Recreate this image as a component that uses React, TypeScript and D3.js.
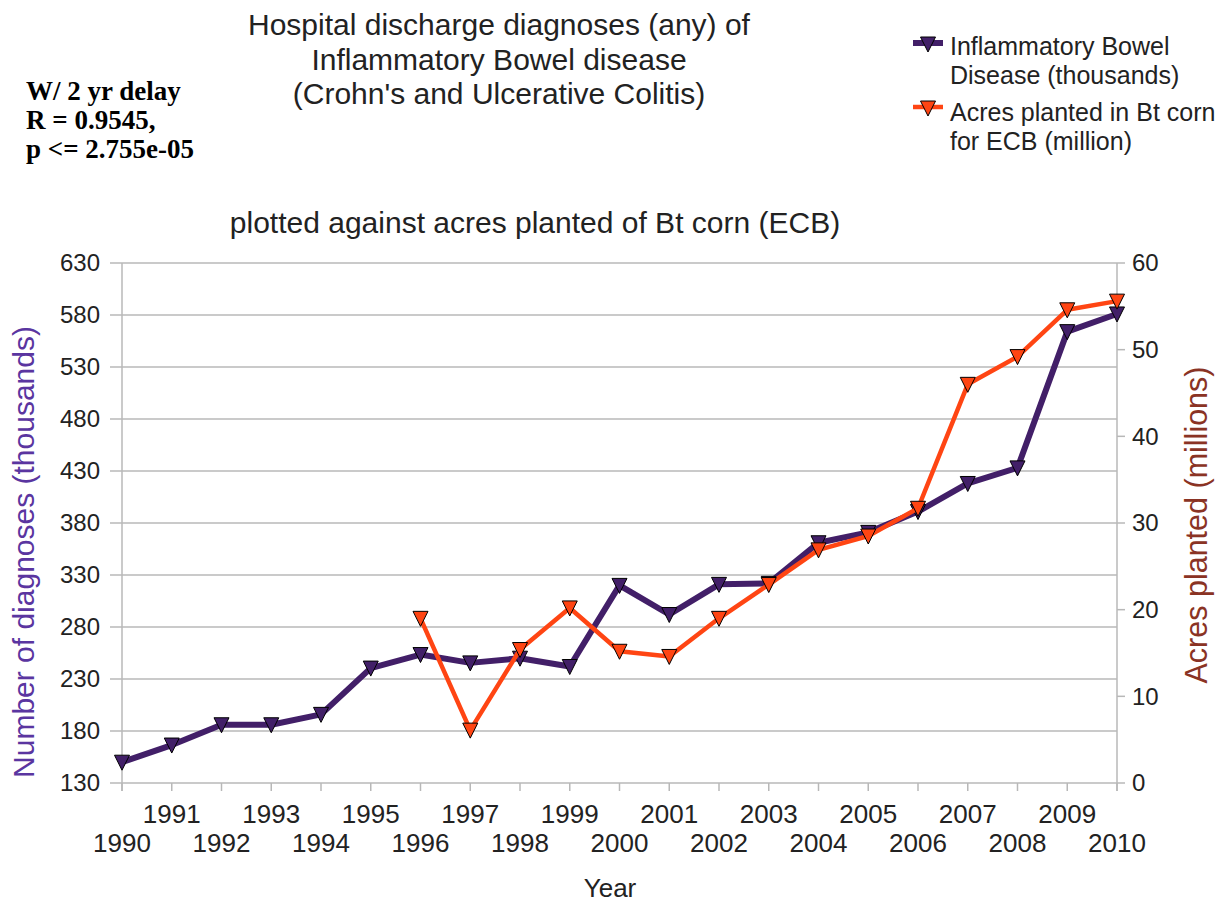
import React from "react";
import * as d3 from "d3";

const years = [1990, 1991, 1992, 1993, 1994, 1995, 1996, 1997, 1998, 1999, 2000, 2001, 2002, 2003, 2004, 2005, 2006, 2007, 2008, 2009, 2010];
const ibdValues = [150, 166.5, 186, 186, 196, 240.5, 253.5, 245.5, 250, 242, 320, 292, 321, 322, 361, 371, 391, 418, 433, 564, 581];
const acresYears = [1996, 1997, 1998, 1999, 2000, 2001, 2002, 2003, 2004, 2005, 2006, 2007, 2008, 2009, 2010];
const acresValues = [19.0, 6.1, 15.4, 20.2, 15.2, 14.6, 19.0, 22.9, 26.9, 28.5, 31.7, 46.0, 49.2, 54.6, 55.6];
const leftTicks = [130, 180, 230, 280, 330, 380, 430, 480, 530, 580, 630];
const rightTicks = [0, 10, 20, 30, 40, 50, 60];
const titleLines = ["Hospital discharge diagnoses (any) of", "Inflammatory Bowel disease", "(Crohn's and Ulcerative Colitis)"];
const statLines = ["W/ 2 yr delay", "R = 0.9545,", "p <= 2.755e-05"];
const subtitle = "plotted against acres planted of Bt corn (ECB)";
const legendIbd = ["Inflammatory Bowel", "Disease (thousands)"];
const legendAcres = ["Acres planted in Bt corn", "for ECB (million)"];

const W = 1215;
const H = 903;
const L = 122, R = 1117, T = 263, B = 783;
const PURPLE = "#421f68";
const ORANGE = "#ff4513";
const GRID = "#b8b8b8";
const FONT = "'Liberation Sans', Arial, sans-serif";

const tri = "M-7.5,-7L7.5,-7L0,8Z";

export default function App() {
  const x = d3.scaleLinear().domain([1990, 2010]).range([L, R]);
  const yL = d3.scaleLinear().domain([130, 630]).range([B, T]);
  const yR = d3.scaleLinear().domain([0, 60]).range([B, T]);

  const ibdData = years.map((yr, i) => ({ yr, v: ibdValues[i] }));
  const acresData = acresYears.map((yr, i) => ({ yr, v: acresValues[i] }));

  const ibdLine = d3.line<{ yr: number; v: number }>().x(d => x(d.yr)).y(d => yL(d.v));
  const acresLine = d3.line<{ yr: number; v: number }>().x(d => x(d.yr)).y(d => yR(d.v));

  return (
    <svg width={W} height={H} style={{ position: "absolute", left: 0, top: 0, background: "#fff" }} fontFamily={FONT}>
      <rect x={0} y={0} width={W} height={H} fill="#fff" />
      {/* Title */}
      {titleLines.map((t, i) => (
        <text key={t} x={499} y={35 + i * 34.5} textAnchor="middle" fontSize={30} fill="#222">{t}</text>
      ))}
      {/* Stats */}
      {statLines.map((t, i) => (
        <text key={t} x={26} y={100 + i * 29} fontSize={27} fontWeight="bold" fontFamily="'Liberation Serif', 'Times New Roman', serif" fill="#000">{t}</text>
      ))}
      {/* Legend */}
      <g>
        <line x1={913} x2={943} y1={43} y2={43} stroke={PURPLE} strokeWidth={6} />
        <path d={tri} transform="translate(928,44)" fill={PURPLE} stroke="#000" strokeWidth={1} />
        {legendIbd.map((t, i) => (
          <text key={t} x={950} y={55 + i * 29} fontSize={25} fill="#222">{t}</text>
        ))}
        <line x1={913} x2={943} y1={107} y2={107} stroke={ORANGE} strokeWidth={4.5} />
        <path d={tri} transform="translate(928,108)" fill={ORANGE} stroke="#000" strokeWidth={1} />
        {legendAcres.map((t, i) => (
          <text key={t} x={950} y={121 + i * 29} fontSize={25} fill="#222">{t}</text>
        ))}
      </g>
      {/* Subtitle */}
      <text x={535} y={233} textAnchor="middle" fontSize={30} fill="#222">{subtitle}</text>

      {/* Grid */}
      {leftTicks.map(t => (
        <line key={"g" + t} x1={L - 12} x2={R} y1={yL(t)} y2={yL(t)} stroke={GRID} strokeWidth={1.5} />
      ))}
      {rightTicks.map(t => (
        <line key={"r" + t} x1={R} x2={R + 8} y1={yR(t)} y2={yR(t)} stroke={GRID} strokeWidth={1.5} />
      ))}
      <line x1={L} x2={L} y1={T} y2={B + 8} stroke={GRID} strokeWidth={1.5} />
      <line x1={R} x2={R} y1={T} y2={B + 8} stroke={GRID} strokeWidth={1.5} />
      {years.map(yr => (
        <line key={"xt" + yr} x1={x(yr)} x2={x(yr)} y1={B} y2={B + 8} stroke={GRID} strokeWidth={1.5} />
      ))}

      {/* Left tick labels */}
      {leftTicks.map(t => (
        <text key={"lt" + t} x={100} y={yL(t)} dy="0.35em" textAnchor="end" fontSize={24} fill="#222">{t}</text>
      ))}
      {/* Right tick labels */}
      {rightTicks.map(t => (
        <text key={"rt" + t} x={1132} y={yR(t)} dy="0.35em" textAnchor="start" fontSize={24} fill="#222">{t}</text>
      ))}
      {/* X tick labels */}
      {years.map((yr, i) => (
        <text key={"xl" + yr} x={x(yr)} y={i % 2 === 1 ? 823 : 852} textAnchor="middle" fontSize={26} fill="#222">{yr}</text>
      ))}
      <text x={610} y={897} textAnchor="middle" fontSize={26} fill="#222">Year</text>

      {/* Axis titles */}
      <text transform="translate(34,552) rotate(-90)" textAnchor="middle" fontSize={30} fill="#5a35a0">Number of diagnoses (thousands)</text>
      <text transform="translate(1207,525) rotate(-90)" textAnchor="middle" fontSize={30.5} fill="#8a3324">Acres planted (millions)</text>

      {/* Series */}
      <path d={ibdLine(ibdData) || ""} fill="none" stroke={PURPLE} strokeWidth={6} strokeLinejoin="round" />
      {ibdData.map(d => (
        <path key={"pm" + d.yr} d={tri} transform={`translate(${x(d.yr)},${yL(d.v)})`} fill={PURPLE} stroke="#000" strokeWidth={1} />
      ))}
      <path d={acresLine(acresData) || ""} fill="none" stroke={ORANGE} strokeWidth={4.5} strokeLinejoin="round" />
      {acresData.map(d => (
        <path key={"om" + d.yr} d={tri} transform={`translate(${x(d.yr)},${yR(d.v)})`} fill={ORANGE} stroke="#000" strokeWidth={1} />
      ))}
    </svg>
  );
}
